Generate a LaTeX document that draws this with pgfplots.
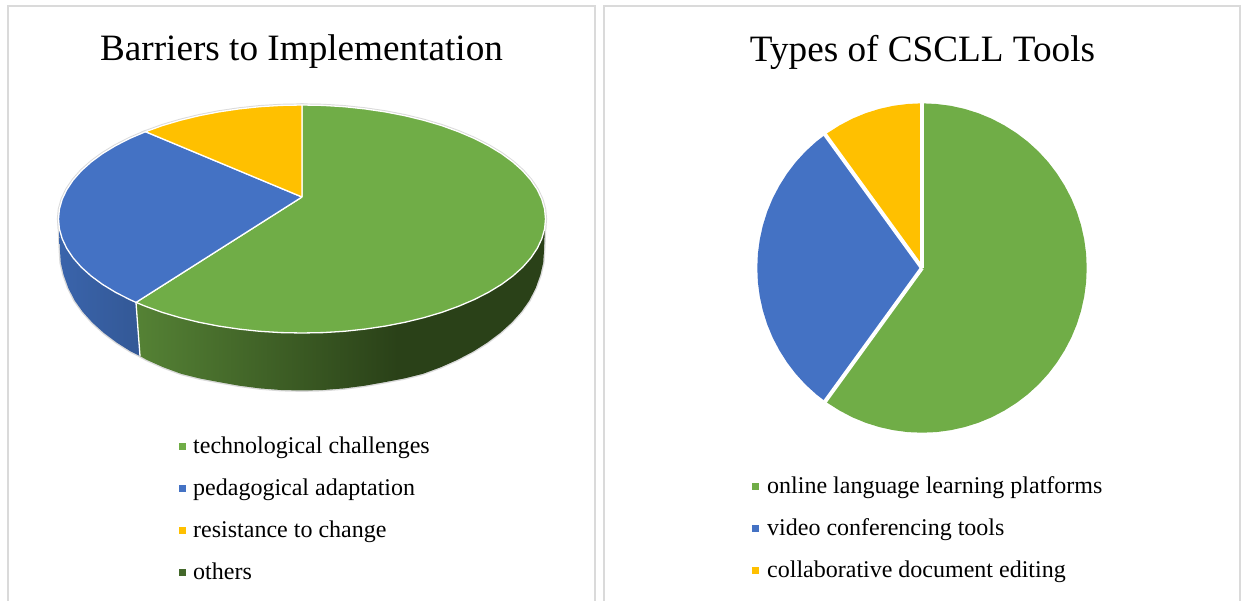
\documentclass[border=0pt]{standalone}
\usepackage{fontspec}
\setmainfont{Liberation Serif}
\usepackage{pgfplots}
\usepackage{pgfplotstable}
\pgfplotsset{compat=1.18}
\definecolor{cgreen}{HTML}{70AD47}
\definecolor{cblue}{HTML}{4472C4}
\definecolor{cyellow}{HTML}{FFC000}
\definecolor{cothers}{HTML}{43682B}
\definecolor{cborder}{HTML}{DADADA}
\definecolor{sgA}{HTML}{558235}
\definecolor{sgB}{HTML}{2A4118}
\definecolor{sbA}{HTML}{3A64AB}
\definecolor{sbB}{HTML}{335896}
\pgfdeclarehorizontalshading{greenside}{100bp}{color(0bp)=(sgA); color(25bp)=(sgA); color(57bp)=(sgB); color(100bp)=(sgB)}
\pgfdeclarehorizontalshading{blueside}{100bp}{color(0bp)=(sbA); color(25bp)=(sbA); color(75bp)=(sbB); color(100bp)=(sbB)}

% left chart: top face of the 3D pie, pixel coordinates
\pgfplotstableread{
x y
302 197
302 105
323.2 105.4
344.3 106.7
365 108.9
385.3 111.9
404.9 115.7
423.75 120.3
441.7 125.6
458.5 131.7
474.2 138.4
488.5 145.7
501.5 153.6
512.9 162
522.7 170.8
530.8 180
537.2 189.5
541.8 199.2
544.6 209.1
545.5 219
544.6 228.9
541.8 238.8
537.2 248.5
530.8 258
522.7 267.2
512.9 276
501.5 284.4
488.5 292.3
474.2 299.6
458.5 306.3
441.7 312.4
423.75 317.7
404.9 322.3
385.3 326.1
365 329.1
344.3 331.3
323.2 332.6
302 333
280.8 332.6
259.7 331.3
239 329.1
218.7 326.1
199.1 322.3
180.25 317.7
162.3 312.4
145.5 306.3
136 302.4
302 197
}\greenTop
\pgfplotstableread{
x y
302 197
136 302.4
129.8 299.6
115.5 292.3
102.5 284.4
91.1 276
81.3 267.2
73.2 258
66.8 248.5
62.2 238.8
59.4 228.9
58.5 219
59.4 209.1
62.2 199.2
66.8 189.5
73.2 180
81.3 170.8
91.1 162
102.5 153.6
115.5 145.7
129.8 138.4
145.5 131.7
302 197
}\blueTop
\pgfplotstableread{
x y
302 197
145.5 131.7
162.3 125.6
180.25 120.3
199.1 115.7
218.7 111.9
239 108.9
259.7 106.7
280.8 105.4
302 105
302 197
}\yellowTop
% left chart: side wall
\pgfplotstableread{
x y
545 225
544 250.5
543.2 262.7
540.4 274.8
535.8 287.7
529.4 300.4
521.4 311.7
511.7 322.5
500.3 332.8
487.4 342.5
473.2 351.5
457.6 359.7
440.8 367.2
423.2 373.7
404.5 378.4
385 382.1
364.8 385.7
344.1 388.4
323.1 390
302 390.5
280.9 390
259.9 388.4
239.2 385.7
219 382.1
199.5 378.4
180.8 373.7
163.2 367.2
146.4 359.7
140 356
136 302.7
302 300
545 225
}\greenSide
\pgfplotstableread{
x y
136 302.7
140 356
130.8 351.5
116.6 342.5
103.7 332.8
92.3 322.5
82.6 311.7
74.6 300.4
68.2 287.7
63.6 274.8
60.8 262.7
60 250.5
59 225
136 302.7
}\blueSide

\begin{document}
\begin{tikzpicture}
\useasboundingbox (0pt,0pt) rectangle (1248pt,601pt);
\begin{axis}[
  at={(0pt,0pt)}, anchor=south west,
  scale only axis, width=600pt, height=601pt,
  xmin=0, xmax=600, ymin=0, ymax=601, y dir=reverse,
  hide axis,
  legend cell align=left,
  legend image code/.code={\fill[#1,draw=none] (0pt,-1pt) rectangle (7pt,6pt);},
  legend style={at={(axis cs:179,438)}, anchor=north west, draw=none, fill=none,
    inner sep=0pt, row sep=20.5pt, font=\fontsize{24}{26}\selectfont,
    nodes={inner sep=0pt, anchor=west, text height=15.5pt, text depth=6pt},
    /tikz/every even column/.append style={column sep=0pt}},
]
\addplot[forget plot, cborder, line width=1.6pt] coordinates {(8,601)(8,6)(595,6)(595,601)};
% gray glow
\addplot[forget plot, draw=cborder, line width=3.2pt] table[x=x,y=y]{\greenTop};
\addplot[forget plot, draw=cborder, line width=3.2pt] table[x=x,y=y]{\blueTop};
\addplot[forget plot, draw=cborder, line width=3.2pt] table[x=x,y=y]{\yellowTop};
\addplot[forget plot, draw=cborder, line width=2.8pt] table[x=x,y=y]{\greenSide};
\addplot[forget plot, draw=cborder, line width=2.8pt] table[x=x,y=y]{\blueSide};
% side wall
\addplot[forget plot, draw=none, shade, shading=blueside] table[x=x,y=y]{\blueSide};
\addplot[forget plot, draw=none, shade, shading=greenside] table[x=x,y=y]{\greenSide};
\addplot[forget plot, white, line width=1.3pt] coordinates {(136,302.7)(140,356)};
% top face
\addplot[fill=cgreen, draw=white, line width=1.3pt, line join=round] table[x=x,y=y]{\greenTop};
\addplot[fill=cblue, draw=white, line width=1.3pt, line join=round] table[x=x,y=y]{\blueTop};
\addplot[fill=cyellow, draw=white, line width=1.3pt, line join=round] table[x=x,y=y]{\yellowTop};
\addplot[fill=cothers, draw=none] coordinates {(0,0)};
\legend{\hspace{7pt}technological challenges,\hspace{7pt}pedagogical adaptation,\hspace{7pt}resistance to change,\hspace{7pt}others}
\node[font=\fontsize{37.2}{40}\selectfont, anchor=center] at (axis cs:301.5,52) {Barriers to Implementation};
\end{axis}
\begin{axis}[
  at={(600pt,0pt)}, anchor=south west,
  scale only axis, width=648pt, height=601pt,
  xmin=600, xmax=1248, ymin=0, ymax=601, y dir=reverse,
  hide axis,
  legend cell align=left,
  legend image code/.code={\fill[#1,draw=none] (0pt,-1pt) rectangle (7pt,6pt);},
  legend style={at={(axis cs:752,478)}, anchor=north west, draw=none, fill=none,
    inner sep=0pt, row sep=20.5pt, font=\fontsize{24}{26}\selectfont,
    nodes={inner sep=0pt, anchor=west, text height=15.5pt, text depth=6pt},
    /tikz/every even column/.append style={column sep=0pt}},
]
\addplot[forget plot, cborder, line width=1.6pt] coordinates {(604,601)(604,6)(1240,6)(1240,601)};
\addplot[fill=cgreen, draw=none] coordinates {
(922,268)(922,103.3)(936.4,104)(950.6,105.8)(964.6,108.9)(978.3,113.2)(991.6,118.7)(1004.35,125.4)(1016.5,133.1)(1027.9,141.8)(1038.5,151.5)(1048.2,162.1)(1056.9,173.5)(1064.6,185.65)(1071.3,198.4)(1076.8,211.7)(1081.1,225.4)(1084.2,239.4)(1086.1,253.6)(1086.7,268)(1086.1,282.4)(1084.2,296.6)(1081.1,310.6)(1076.8,324.3)(1071.3,337.6)(1064.6,350.35)(1056.9,362.5)(1048.2,373.9)(1038.5,384.5)(1027.9,394.2)(1016.5,402.9)(1004.35,410.6)(991.6,417.3)(978.3,422.8)(964.6,427.1)(950.6,430.2)(936.4,432.1)(922,432.7)(907.6,432.1)(893.4,430.2)(879.4,427.1)(865.7,422.8)(852.4,417.3)(839.65,410.6)(827.5,402.9)(825.2,401.2)};
\addplot[fill=cblue, draw=none] coordinates {
(922,268)(825.2,401.2)(816.1,394.2)(805.5,384.5)(795.8,373.9)(787.1,362.5)(779.4,350.35)(772.7,337.6)(767.2,324.3)(762.9,310.6)(759.8,296.6)(757.9,282.4)(757.3,268)(757.9,253.6)(759.8,239.4)(762.9,225.4)(767.2,211.7)(772.7,198.4)(779.4,185.65)(787.1,173.5)(795.8,162.1)(805.5,151.5)(816.1,141.8)(825.2,134.8)};
\addplot[fill=cyellow, draw=none] coordinates {
(922,268)(825.2,134.8)(827.5,133.1)(839.65,125.4)(852.4,118.7)(865.7,113.2)(879.4,108.9)(893.4,105.8)(907.6,104)(922,103.3)};
\addplot[forget plot, white, line width=4pt] coordinates {(922,100)(922,268)};
\addplot[forget plot, white, line width=4pt] coordinates {(824,403)(922,268)};
\addplot[forget plot, white, line width=4pt] coordinates {(824,133)(922,268)};
\legend{\hspace{8pt}online language learning platforms,\hspace{8pt}video conferencing tools,\hspace{8pt}collaborative document editing}
\node[font=\fontsize{37.2}{40}\selectfont, anchor=center] at (axis cs:922.5,52) {Types of CSCLL Tools};
\end{axis}
\end{tikzpicture}
\end{document}
